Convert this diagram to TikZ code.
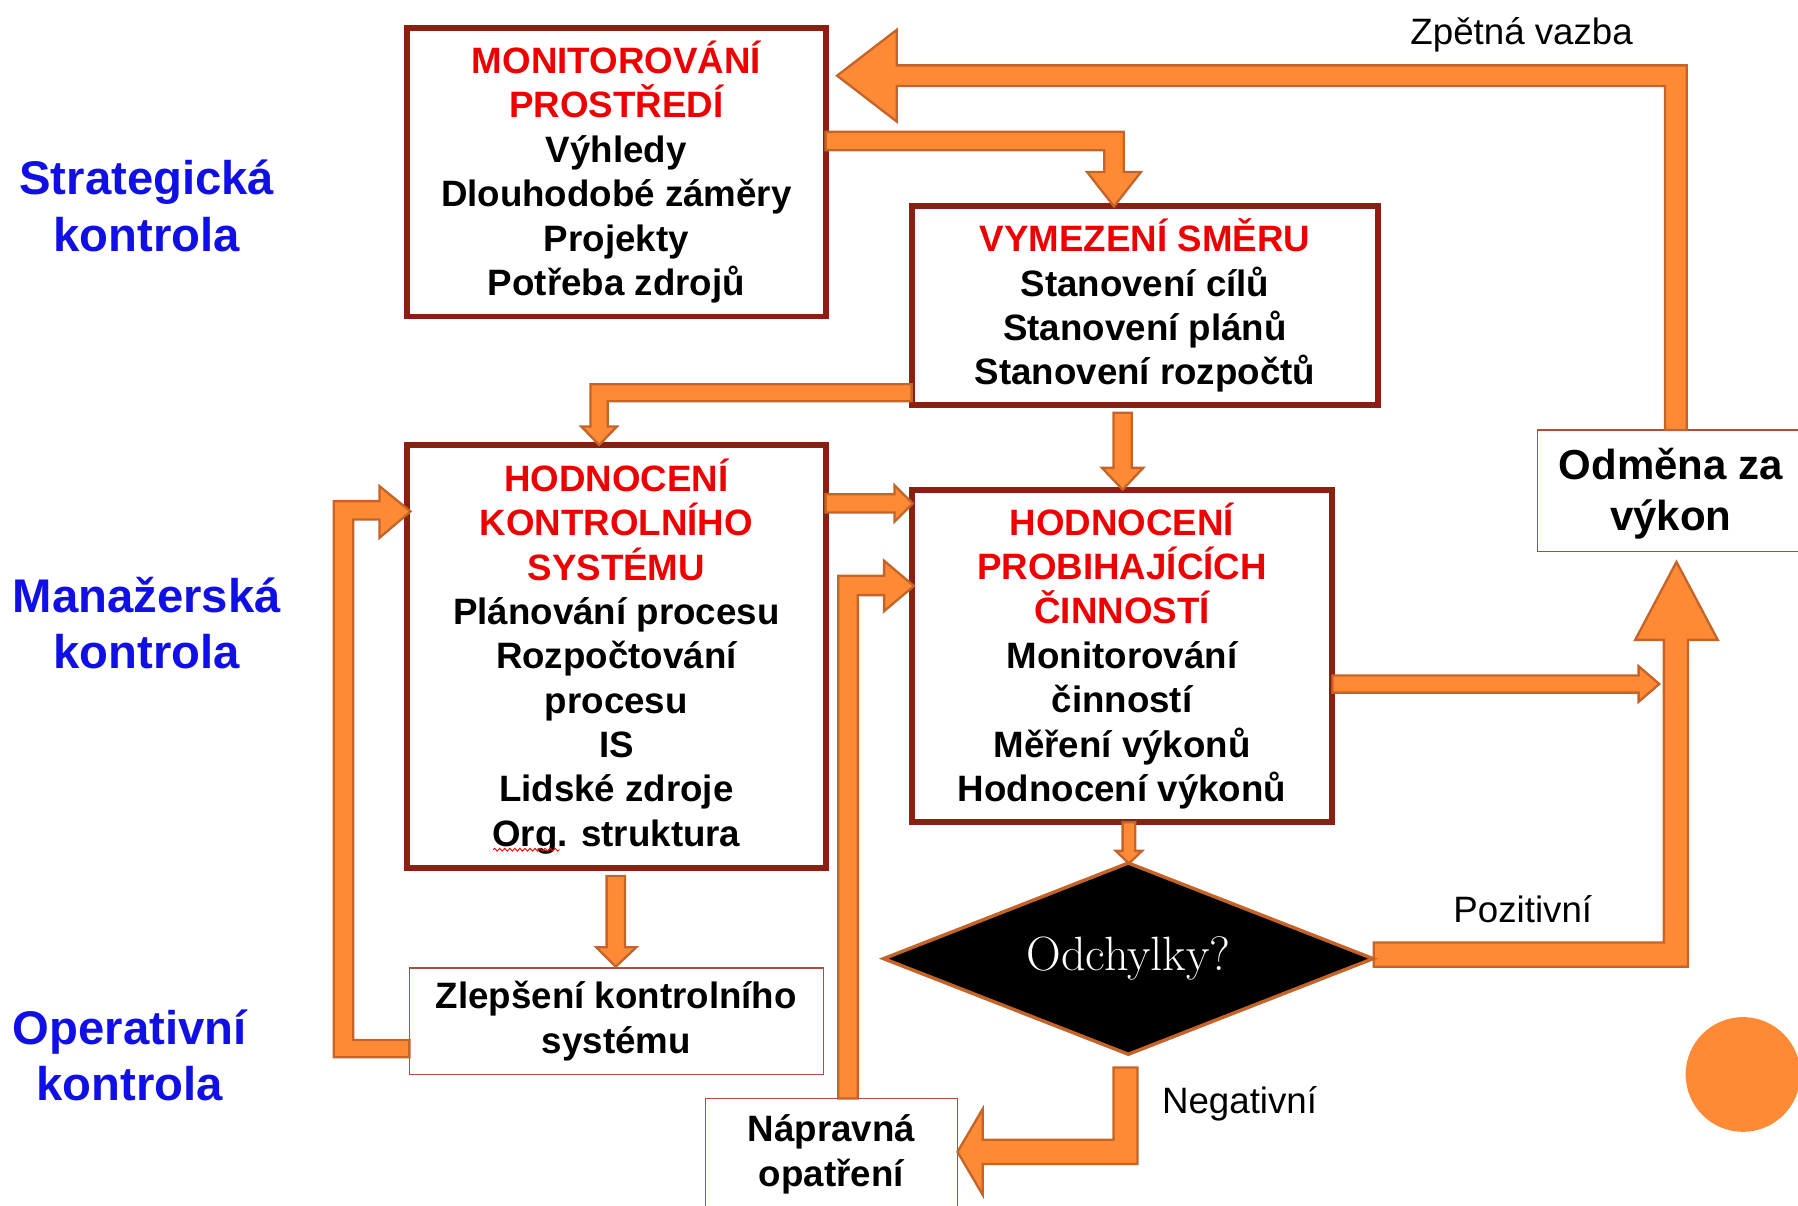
\documentclass[tikz,border=0pt]{standalone}
\usepackage{fontspec}
\newfontfamily\arialf{Liberation Sans}
\usetikzlibrary{shapes.geometric,decorations.pathmorphing}
\definecolor{orfill}{RGB}{255,138,54}
\definecolor{ordraw}{RGB}{196,100,40}
\definecolor{boxred}{RGB}{138,32,18}
\definecolor{thinred}{RGB}{176,76,60}
\definecolor{titred}{RGB}{238,0,0}
\definecolor{lblue}{RGB}{16,16,230}
\begin{document}
\begin{tikzpicture}[x=0.5pt,y=-0.5pt,
  bigbox/.style={draw=boxred, line width=2.6pt, fill=white, inner sep=0pt, align=center,
    font=\arialf\bfseries\fontsize{16}{19.35}\selectfont},
  thinbox/.style={draw=thinred, line width=0.6pt, fill=white, inner sep=0pt, align=center,
    font=\arialf\bfseries\fontsize{16}{19.5}\selectfont},
  barrow/.style={fill=orfill, draw=ordraw, line width=1pt, line join=miter},
  sidelbl/.style={text=lblue, align=center, inner sep=0pt,
    font=\arialf\bfseries\fontsize{20.6}{24.5}\selectfont},
  plainlbl/.style={inner sep=0pt, font=\arialf\fontsize{16}{19}\selectfont},
  decision/.style={diamond, aspect=2.55, draw=ordraw, fill=black, line width=1.5pt, inner sep=0pt,
    minimum width=214pt, minimum height=84pt, text=white, font=\fontsize{21}{24}\selectfont}
]
\useasboundingbox (0,0) rectangle (1568,1051);

% side labels
\node[sidelbl] (ls) at (128,179.5) {Strategická\\kontrola};
\node[sidelbl] (lm) at (128,543.5) {Manažerská\\kontrola};
\node[sidelbl] (lo) at (113,920.5) {Operativní\\kontrola};

% boxes
\node[bigbox, minimum width=182.5pt, minimum height=126pt] (b1) at (537.5,150)
  {\textcolor{titred}{MONITOROVÁNÍ}\\\textcolor{titred}{PROSTŘEDÍ}\\Výhledy\\Dlouhodobé záměry\\Projekty\\Potřeba zdrojů};
\node[bigbox, minimum width=203.5pt, minimum height=86.5pt] (b2) at (998.5,266.5)
  {\textcolor{titred}{VYMEZENÍ SMĚRU}\\Stanovení cílů\\Stanovení plánů\\Stanovení rozpočtů};
\node[bigbox, minimum width=182.5pt, minimum height=184.5pt] (b3) at (537.5,572.5)
  {\textcolor{titred}{HODNOCENÍ}\\\textcolor{titred}{KONTROLNÍHO}\\\textcolor{titred}{SYSTÉMU}\\Plánování procesu\\Rozpočtování\\procesu\\IS\\Lidské zdroje\\Org. struktura};
\node[bigbox, minimum width=183.5pt, minimum height=145pt] (b4) at (978.5,572)
  {\textcolor{titred}{HODNOCENÍ}\\\textcolor{titred}{PROBIHAJÍCÍCH}\\\textcolor{titred}{ČINNOSTÍ}\\Monitorování\\činností\\Měření výkonů\\Hodnocení výkonů};
\node[thinbox, minimum width=180.5pt, minimum height=46.5pt] (b5) at (537.5,890.5)
  {Zlepšení kontrolního\\systému};
\node[thinbox, minimum width=110pt, minimum height=48.5pt] (b6) at (725,1006.5)
  {Nápravná\\opatření};
\node[thinbox, minimum width=116pt, minimum height=53pt,
  font=\arialf\bfseries\fontsize{18.3}{22}\selectfont] (b7) at (1457,428)
  {\\[-6pt]Odměna za\\výkon};

% spell-check squiggle under "Org"
\draw[red, line width=0.4pt, decorate, decoration={snake, amplitude=0.6pt, segment length=2.2pt}]
  (430,741) -- (488,741);

% block arrows
% A1 feedback: Odmena -> Monitorovani
\draw[barrow] (1452,375) -- (1452,75) -- (782,75) -- (782,106) -- (730,66) -- (782,26)
  -- (782,57) -- (1471,57) -- (1471,375) -- cycle;
% A2: b1 -> b2
\draw[barrow] (720,115) -- (980,115) -- (980,150) -- (995,150) -- (971.5,180) -- (948,150)
  -- (963,150) -- (963,131) -- (720,131) -- cycle;
% A3: b2 -> b3
\draw[barrow] (795,335) -- (515,335) -- (515,372) -- (507,372) -- (522.5,388) -- (538,372)
  -- (530,372) -- (530,350) -- (795,350) -- cycle;
% A4: b2 -> b4
\draw[barrow] (971,360) -- (987,360) -- (987,408) -- (997,408) -- (979,427) -- (961,408)
  -- (971,408) -- cycle;
% A5: b3 -> b4
\draw[barrow] (720,431) -- (780,431) -- (780,423) -- (796,439) -- (780,455) -- (780,447)
  -- (720,447) -- cycle;
% A6: b6 -> b4
\draw[barrow] (731,958) -- (731,502) -- (771,502) -- (771,489) -- (797,511) -- (771,533)
  -- (771,519) -- (748,519) -- (748,958) -- cycle;
% A7: b5 -> b3
\draw[barrow] (357,907) -- (308,907) -- (308,453) -- (331,453) -- (331,469) -- (358,446)
  -- (331,424) -- (331,437) -- (291,437) -- (291,922) -- (357,922) -- cycle;
% A8: b3 -> b5
\draw[barrow] (529,764) -- (545,764) -- (545,826) -- (555,826) -- (537,843) -- (520,826)
  -- (529,826) -- cycle;
% A9: b4 -> diamond
\draw[barrow] (979,717) -- (990,717) -- (990,742) -- (996,742) -- (984.5,753) -- (973,742)
  -- (979,742) -- cycle;
% A10: b4 -> right
\draw[barrow] (1162,589) -- (1429,589) -- (1429,581) -- (1447,596.5) -- (1429,612)
  -- (1429,604) -- (1162,604) -- cycle;
% A11: diamond -> Odmena
\draw[barrow] (1198,822) -- (1451,822) -- (1451,558) -- (1426,558) -- (1462,490) -- (1498,558)
  -- (1472,558) -- (1472,843) -- (1198,843) -- cycle;
% A12: diamond -> Napravna
\draw[barrow] (971,931) -- (992,931) -- (992,1015) -- (857,1015) -- (857,1042) -- (835,1004.5)
  -- (857,967) -- (857,994) -- (971,994) -- cycle;

% decision
\node[decision] (d) at (984,836) {Odchylky?};

% labels
\node[plainlbl] (zv) at (1327,30) {Zpětná vazba};
\node[plainlbl] (poz) at (1328,793) {Pozitivní};
\node[plainlbl] (neg) at (1081,963) {Negativní};

% decoration circle
\fill[orfill] (1520,937) circle (25pt);
\end{tikzpicture}
\end{document}
